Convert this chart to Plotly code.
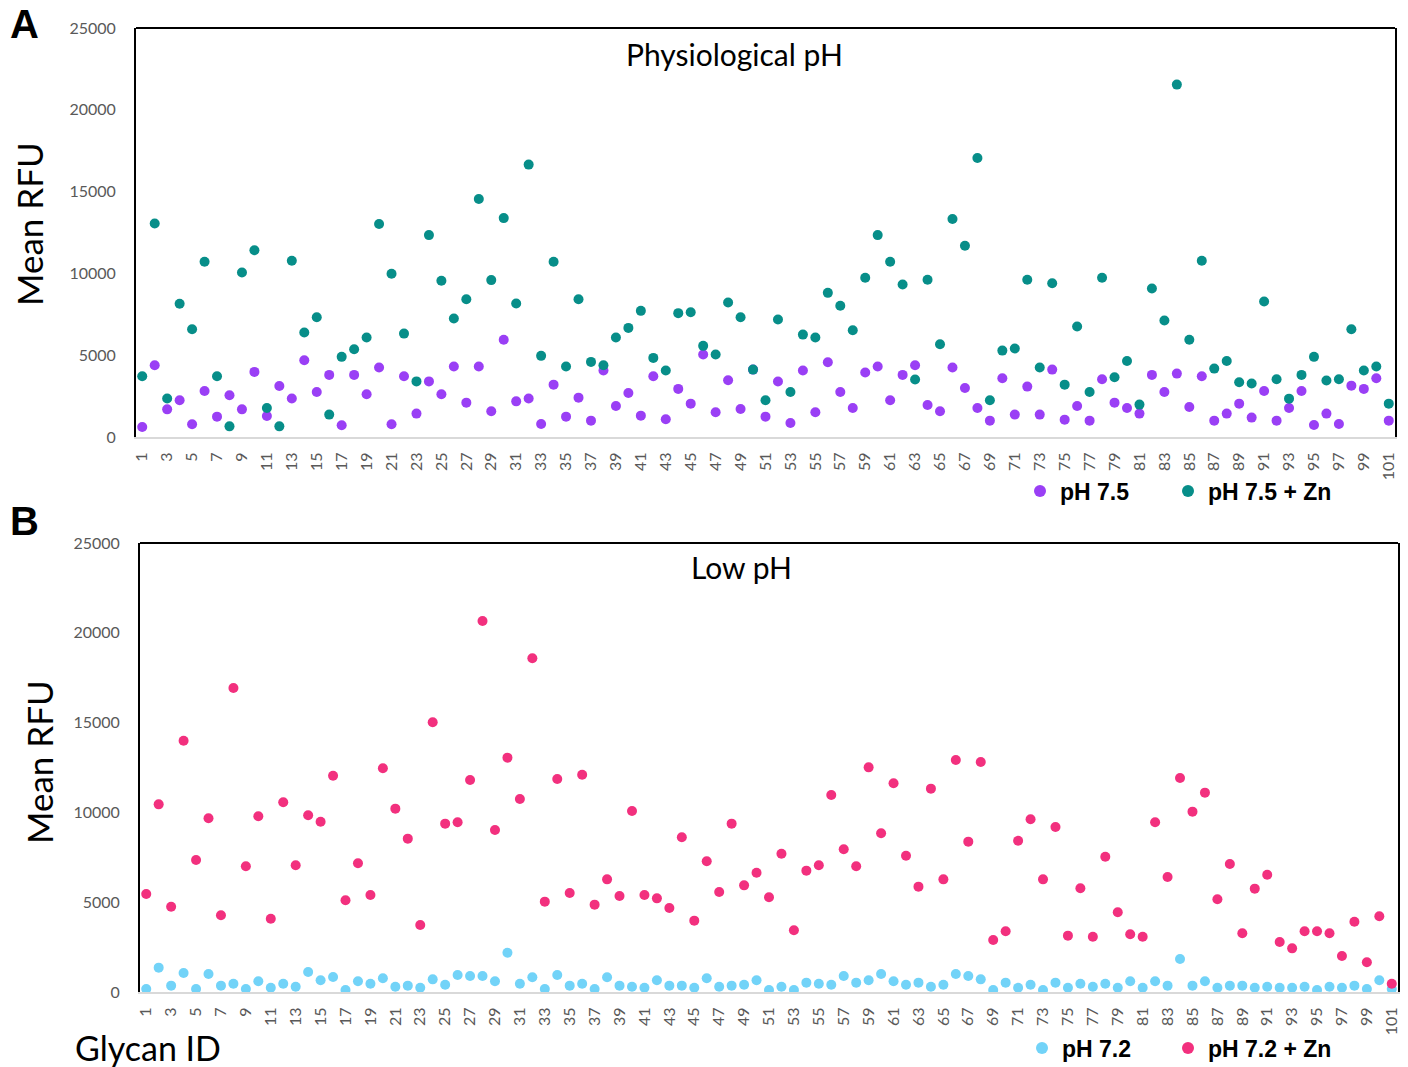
import plotly.graph_objects as go

W, H = 1408, 1067

glycan_ids = list(range(1, 102))
y_ticks = [0, 5000, 10000, 15000, 20000, 25000]
x_tickvals = list(range(1, 102, 2))

ph75 = [610, 4390, 1690, 2245, 775, 2815, 1245, 2550, 1690, 3980,
        1285, 3120, 2350, 4690, 2755, 3795, 715, 3795, 2610, 4245,
        775, 3710, 1430, 3400, 2610, 4305, 2100, 4305, 1570, 5940,
        2180, 2350, 795, 3200, 1245, 2405, 1000, 4060, 1900, 2690,
        1305, 3710, 1080, 2940, 2040, 5040, 1510, 3470, 1715, 4120,
        1245, 3390, 857, 4060, 1510, 4570, 2755, 1775, 3940, 4305,
        2245, 3795, 4390, 1960, 1570, 4245, 3000, 1775, 1000, 3590,
        1370, 3080, 1370, 4120, 1060, 1900, 1000, 3530, 2100, 1775,
        1430, 3795, 2755, 3875, 1835, 3710, 1000, 1430, 2040, 1185,
        2815, 1000, 1775, 2815, 735, 1430, 795, 3140, 2940, 3590, 1000]

ph75_zn = [3710, 13050, 2350, 8140, 6590, 10710, 3710, 650, 10060, 11420,
           1775, 650, 10770, 6385, 7320, 1370, 4900, 5365, 6080, 13015,
           9975, 6320, 3400, 12340, 9550, 7240, 8425, 14545, 9590, 13380,
           8160, 16650, 4960, 10710, 4305, 8425, 4590, 4390, 6080, 6670,
           7710, 4835, 4060, 7570, 7630, 5570, 5040, 8220, 7320, 4120,
           2245, 7180, 2755, 6260, 6080, 8810, 8020, 6530, 9730, 12340,
           10710, 9320, 3510, 9610, 5670, 13320, 11690, 17050, 2245, 5280,
           5405, 9610, 4245, 9400, 3200, 6750, 2755, 9730, 3650, 4650,
           1980, 9080, 7120, 21540, 5940, 10770, 4180, 4650, 3345, 3265,
           8280, 3530, 2345, 3795, 4900, 3450, 3530, 6590, 4060, 4305, 2040]

ph72 = [167, 1355, 353, 1058, 167, 1002, 353, 464, 167, 594,
        241, 464, 297, 1114, 650, 835, 111, 594, 464, 761,
        297, 353, 241, 705, 408, 947, 891, 891, 594, 2190,
        464, 817, 167, 947, 353, 464, 167, 817, 353, 297,
        241, 650, 353, 353, 241, 761, 297, 353, 408, 650,
        111, 297, 111, 520, 464, 408, 891, 520, 650, 1002,
        594, 408, 520, 297, 408, 1002, 891, 705, 111, 520,
        241, 408, 111, 520, 241, 464, 297, 464, 241, 594,
        241, 594, 353, 1837, 353, 594, 241, 353, 353, 241,
        297, 241, 241, 297, 111, 297, 241, 353, 167, 650, 167]

ph72_zn = [5457, 10449, 4751, 13994, 7350, 9670, 4269, 16927, 6997, 9781,
           4083, 10561, 7053, 9837, 9484, 12045, 5104, 7164, 5401, 12454,
           10208, 8538, 3731, 15015, 9373, 9447, 11804, 20657, 9020, 13048,
           10746, 18579, 5030, 11860, 5512, 12101, 4863, 6273, 5345, 10078,
           5401, 5215, 4677, 8612, 3972, 7276, 5568, 9373, 5939, 6644,
           5271, 7702, 3434, 6756, 7053, 10969, 7944, 6997, 12509, 8835,
           11619, 7591, 5865, 11322, 6273, 12918, 8371, 12806, 2895, 3378,
           8426, 9614, 6273, 9187, 3137, 5772, 3081, 7535, 4436, 3211,
           3081, 9447, 6403, 11916, 10041, 11099, 5160, 7127, 3267, 5754,
           6533, 2784, 2431, 3378, 3378, 3267, 2004, 3916, 1652, 4213, 464]

PURPLE = "#9a3ff5"
TEAL = "#078e89"
BLUE = "#72d3f8"
PINK = "#f2307e"

# pixel geometry of the two plot areas (x0, x1, y_top, y_bottom)
A_BOX = (136, 1395, 28, 437)
B_BOX = (140, 1398, 543, 992)


def dom(box):
    x0, x1, yt, yb = box
    return [x0 / W, x1 / W], [1 - yb / H, 1 - yt / H]


fig = go.Figure()

fig.add_trace(go.Scatter(x=glycan_ids, y=ph75, mode="markers", name="pH 7.5",
                         marker=dict(color=PURPLE, size=10), xaxis="x", yaxis="y",
                         legend="legend", legendwidth=103))
fig.add_trace(go.Scatter(x=glycan_ids, y=ph75_zn, mode="markers", name="pH 7.5 + Zn",
                         marker=dict(color=TEAL, size=10), xaxis="x", yaxis="y",
                         legend="legend", legendwidth=140))
fig.add_trace(go.Scatter(x=glycan_ids, y=ph72, mode="markers", name="pH 7.2",
                         marker=dict(color=BLUE, size=10), xaxis="x2", yaxis="y2",
                         legend="legend2", legendwidth=101))
fig.add_trace(go.Scatter(x=glycan_ids, y=ph72_zn, mode="markers", name="pH 7.2 + Zn",
                         marker=dict(color=PINK, size=10), xaxis="x2", yaxis="y2",
                         legend="legend2", legendwidth=140))

tick_font = dict(family="Lato", size=16, color="#595959")
xtick_font = dict(family="Lato", size=16, color="#595959")


def xaxis_cfg(box, anchor):
    xd, _ = dom(box)
    return dict(domain=xd, anchor=anchor, range=[0.5, 101.5],
                tickmode="array", tickvals=x_tickvals,
                ticktext=[str(v) for v in x_tickvals], tickangle=-90,
                tickfont=xtick_font, ticks="outside", ticklen=7,
                tickcolor="rgba(0,0,0,0)", showgrid=False, zeroline=False,
                showline=True, linecolor="#d9d9d9", linewidth=2, fixedrange=True,
                automargin=False)


def yaxis_cfg(box, anchor):
    _, yd = dom(box)
    return dict(domain=yd, anchor=anchor, range=[0, 25000],
                tickmode="array", tickvals=y_ticks,
                ticktext=[str(v) for v in y_ticks], tickfont=tick_font,
                ticks="outside", ticklen=15, tickcolor="rgba(0,0,0,0)",
                showgrid=False, zeroline=False, showline=True,
                linecolor="black", linewidth=2, mirror=True, fixedrange=True,
                automargin=False)


shapes = []
for xr, yr in [("x", "y"), ("x2", "y2")]:
    shapes.append(dict(type="line", xref=f"{xr} domain", yref=f"{yr} domain",
                       x0=0, x1=1, y0=1, y1=1, line=dict(color="black", width=2)))

ann = []
label_font = dict(family="Liberation Sans", size=40, color="black")
ann.append(dict(text="<b>A</b>", x=24 / W, y=1 - 24 / H, xref="paper", yref="paper",
                showarrow=False, font=label_font, xanchor="center", yanchor="middle"))
ann.append(dict(text="<b>B</b>", x=24 / W, y=1 - 521 / H, xref="paper", yref="paper",
                showarrow=False, font=label_font, xanchor="center", yanchor="middle"))
title_font = dict(family="Lato", size=30, color="black")
ann.append(dict(text="Physiological pH", x=734 / W, y=1 - 54 / H, xref="paper", yref="paper",
                showarrow=False, font=title_font, xanchor="center", yanchor="middle"))
ann.append(dict(text="Low pH", x=741 / W, y=1 - 567 / H, xref="paper", yref="paper",
                showarrow=False, font=title_font, xanchor="center", yanchor="middle"))
axis_title_font = dict(family="Lato", size=35, color="black")
ann.append(dict(text="Mean RFU", x=29 / W, y=1 - 224 / H, xref="paper", yref="paper",
                showarrow=False, font=axis_title_font, textangle=-90,
                xanchor="center", yanchor="middle"))
ann.append(dict(text="Mean RFU", x=39 / W, y=1 - 762 / H, xref="paper", yref="paper",
                showarrow=False, font=axis_title_font, textangle=-90,
                xanchor="center", yanchor="middle"))
ann.append(dict(text="Glycan ID", x=148 / W, y=1 - 1047 / H, xref="paper", yref="paper",
                showarrow=False, font=dict(family="Lato", size=34, color="black"),
                xanchor="center", yanchor="middle"))

legend_font = dict(family="Liberation Sans", size=23, color="black", weight="bold")

fig.update_layout(
    width=W, height=H,
    margin=dict(l=0, r=0, t=0, b=0, autoexpand=False),
    paper_bgcolor="white", plot_bgcolor="white",
    xaxis=xaxis_cfg(A_BOX, "y"),
    yaxis=yaxis_cfg(A_BOX, "x"),
    xaxis2=xaxis_cfg(B_BOX, "y2"),
    yaxis2=yaxis_cfg(B_BOX, "x2"),
    shapes=shapes,
    annotations=ann,
    legend=dict(orientation="h", x=1020 / W, y=1 - 491 / H, xanchor="left",
                yanchor="middle", font=legend_font, bgcolor="rgba(0,0,0,0)",
                itemsizing="constant"),
    legend2=dict(orientation="h", x=1022 / W, y=1 - 1048 / H, xanchor="left",
                 yanchor="middle", font=legend_font, bgcolor="rgba(0,0,0,0)",
                 itemsizing="constant"),
    showlegend=True,
)

fig.write_html("out.html")
